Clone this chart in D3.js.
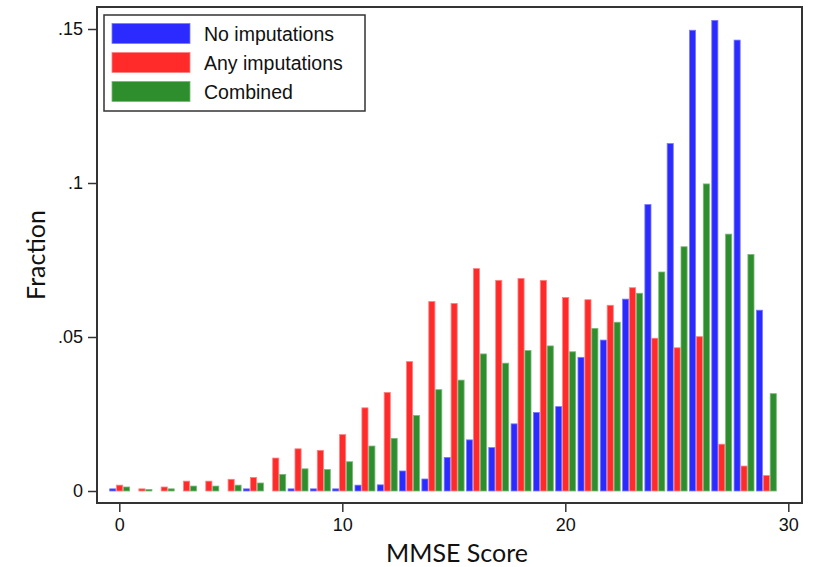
<!DOCTYPE html>
<html>
<head>
<meta charset="utf-8">
<script src="https://cdn.jsdelivr.net/npm/d3@7"></script>
<style>
  body { margin: 0; background: #fff; }
  svg { display: block; }
  .axis text { font-family: "Liberation Sans", Arial, sans-serif; font-size: 18px; fill: #111; }
  .axis line { stroke: #333; stroke-width: 1.5; }
  .axis path { display: none; }
</style>
</head>
<body>
<div id="chart"></div>
<script>
// MMSE score histogram, three series side by side
var scores = d3.range(0, 30);
var noImputations = [0.0007, 0, 0, 0, 0, 0, 0.0007, 0, 0.0007, 0.0007,
  0.0007, 0.0019, 0.002, 0.0065, 0.0039, 0.0109, 0.0166, 0.0141, 0.0218, 0.0255,
  0.0274, 0.0434, 0.049, 0.0623, 0.093, 0.1128, 0.1496, 0.1528, 0.1464, 0.0587];
var anyImputations = [0.0019, 0.0007, 0.0013, 0.0032, 0.0032, 0.0038, 0.0044, 0.0107, 0.0137, 0.0132,
  0.0183, 0.027, 0.032, 0.042, 0.0615, 0.0609, 0.0722, 0.0684, 0.069, 0.0684,
  0.0628, 0.0621, 0.0603, 0.066, 0.0496, 0.0465, 0.0501, 0.0152, 0.0081, 0.005];
var combined = [0.0013, 0.0005, 0.0007, 0.0016, 0.0016, 0.0019, 0.0026, 0.0054, 0.0072, 0.007,
  0.0095, 0.0146, 0.0171, 0.0245, 0.0329, 0.036, 0.0445, 0.0415, 0.0456, 0.0471,
  0.0452, 0.0528, 0.0548, 0.0642, 0.0711, 0.0793, 0.0997, 0.0834, 0.0768, 0.0316];
var seriesNames = ["No imputations", "Any imputations", "Combined"];
var seriesColors = ["#2b2bff", "#ff2b2b", "#2e8e2e"];
var seriesEdges = ["#7a7aff", "#ff8080", "#78b878"];
var xTicks = [0, 10, 20, 30];
var yTicks = [0, 0.05, 0.1, 0.15];

var width = 815, height = 567;
var frame = {left: 97, top: 7, right: 802, bottom: 503};

var svg = d3.select("#chart").append("svg")
  .attr("width", width)
  .attr("height", height);

var x = d3.scaleLinear().domain([0, 30]).range([119.3, 788.3]);
var y = d3.scaleLinear().domain([0, 0.15]).range([491, 29]);

var unit = x(1) - x(0);
var bw = unit * 0.31;

var series = [noImputations, anyImputations, combined];

// bars
series.forEach(function(vals, i) {
  svg.append("g")
    .attr("class", "series s" + i)
    .selectAll("rect")
    .data(scores)
    .enter().filter(function(d) { return vals[d] > 0; })
    .append("rect")
      .attr("x", function(d) { return x(d) - 1.45 * bw + i * bw + 0.4; })
      .attr("width", bw - 0.8)
      .attr("y", function(d) { return y(vals[d]); })
      .attr("height", function(d) { return y(0) - y(vals[d]); })
      .attr("fill", seriesColors[i])
      .attr("stroke", seriesEdges[i])
      .attr("stroke-width", 0.8);
});

// frame
svg.append("rect")
  .attr("x", frame.left)
  .attr("y", frame.top)
  .attr("width", frame.right - frame.left)
  .attr("height", frame.bottom - frame.top)
  .attr("fill", "none")
  .attr("stroke", "#333")
  .attr("stroke-width", 2);

// axes
var fmtY = function(d) { return d === 0 ? "0" : d3.format(".2~f")(d).replace(/^0/, ""); };

svg.append("g")
  .attr("class", "axis axis--y")
  .attr("transform", "translate(" + frame.left + ",0)")
  .call(d3.axisLeft(y).tickValues(yTicks).tickFormat(fmtY).tickSize(9).tickPadding(5));

svg.append("g")
  .attr("class", "axis axis--x")
  .attr("transform", "translate(0," + frame.bottom + ")")
  .call(d3.axisBottom(x).tickValues(xTicks).tickFormat(d3.format("d")).tickSize(9).tickPadding(6));

// axis titles
svg.append("text")
  .attr("x", 457)
  .attr("y", 562)
  .attr("text-anchor", "middle")
  .style("font-family", "Lato, 'Open Sans', sans-serif")
  .style("font-size", "25px")
  .style("fill", "#111")
  .text("MMSE Score");

svg.append("text")
  .attr("transform", "translate(45,255) rotate(-90)")
  .attr("text-anchor", "middle")
  .style("font-family", "Lato, 'Open Sans', sans-serif")
  .style("font-size", "25px")
  .style("fill", "#111")
  .text("Fraction");

// legend
var legend = svg.append("g").attr("class", "legend");
legend.append("rect")
  .attr("x", 104).attr("y", 15)
  .attr("width", 261).attr("height", 96)
  .attr("fill", "#fff")
  .attr("stroke", "#333")
  .attr("stroke-width", 1.5);

var items = legend.selectAll(".item")
  .data(seriesNames)
  .enter().append("g")
    .attr("class", "item")
    .attr("transform", function(d, i) { return "translate(112," + (23.5 + i * 29) + ")"; });

items.append("rect")
  .attr("width", 78).attr("height", 20)
  .attr("fill", function(d, i) { return seriesColors[i]; })
  .attr("stroke", function(d, i) { return seriesEdges[i]; })
  .attr("stroke-width", 0.8);

items.append("text")
  .attr("x", 92)
  .attr("y", 10)
  .attr("dy", "0.36em")
  .style("font-family", "'Liberation Sans', Arial, sans-serif")
  .style("font-size", "19.5px")
  .style("fill", "#111")
  .text(function(d) { return d; });
</script>
</body>
</html>
